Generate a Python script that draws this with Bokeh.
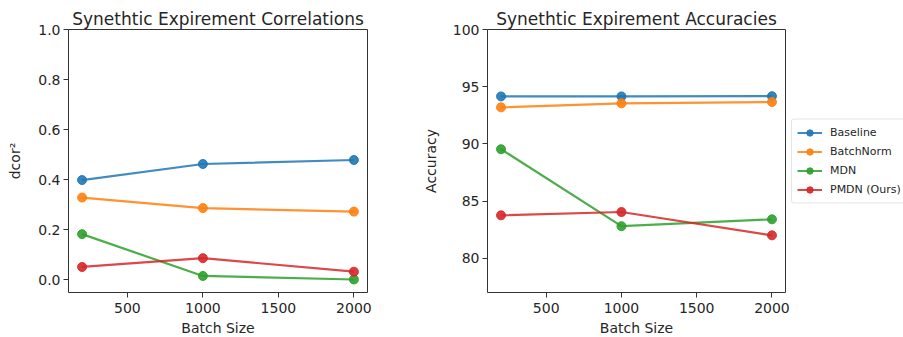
from bokeh.plotting import figure
from bokeh.layouts import row
from bokeh.models import Legend, LegendItem, FixedTicker, NumeralTickFormatter, Range1d
from bokeh.embed import file_html
from bokeh.resources import INLINE

batch_sizes = [200, 1000, 2000]
series_names = ["Baseline", "BatchNorm", "MDN", "PMDN (Ours)"]
colors = ["#1f77b4", "#ff7f0e", "#2ca02c", "#d62728"]

corr_baseline = [0.399, 0.463, 0.479]
corr_batchnorm = [0.329, 0.287, 0.273]
corr_mdn = [0.183, 0.016, 0.002]
corr_pmdn = [0.052, 0.087, 0.033]

acc_baseline = [94.15, 94.15, 94.17]
acc_batchnorm = [93.19, 93.54, 93.66]
acc_mdn = [89.53, 82.8, 83.4]
acc_pmdn = [83.75, 84.04, 82.0]

x_ticks = [500, 1000, 1500, 2000]
corr_ticks = [0.0, 0.2, 0.4, 0.6, 0.8, 1.0]
acc_ticks = [80, 85, 90, 95, 100]

FONT = "DejaVu Sans"
TXT = "#262626"


def style(p, xlabel, ylabel, title, ylabel_standoff):
    p.title.text = title
    p.title.text_font = FONT
    p.title.text_font_size = "17px"
    p.title.text_font_style = "normal"
    p.title.text_color = TXT
    p.title.align = "center"
    p.title.standoff = 2
    p.xgrid.visible = False
    p.ygrid.visible = False
    p.outline_line_color = "#333333"
    p.outline_line_width = 1
    p.background_fill_color = "white"
    p.border_fill_color = "white"
    for ax in (p.xaxis[0], p.yaxis[0]):
        ax.axis_line_color = None
        ax.major_tick_out = 5
        ax.major_tick_in = 0
        ax.major_tick_line_color = "#333333"
        ax.minor_tick_line_color = None
        ax.major_label_text_font = FONT
        ax.major_label_text_font_size = "14px"
        ax.major_label_text_color = TXT
        ax.axis_label_text_font = FONT
        ax.axis_label_text_font_size = "14px"
        ax.axis_label_text_font_style = "normal"
        ax.axis_label_text_color = TXT
        ax.major_label_standoff = 3
    p.xaxis[0].major_label_standoff = 5
    p.xaxis[0].axis_label_standoff = 4
    p.yaxis[0].axis_label_standoff = ylabel_standoff
    p.xaxis.axis_label = xlabel
    p.yaxis.axis_label = ylabel
    p.xaxis.ticker = FixedTicker(ticks=x_ticks)


p1 = figure(frame_width=299, frame_height=263, output_backend="svg", toolbar_location=None,
            x_range=Range1d(110, 2090), y_range=Range1d(-0.05, 1.0),
            min_border_left=68, min_border_right=41, min_border_top=29, min_border_bottom=0)
style(p1, "Batch Size", "dcor\u00b2", "Synethtic Expirement Correlations", 12)
p1.yaxis.ticker = FixedTicker(ticks=corr_ticks)
p1.yaxis.formatter = NumeralTickFormatter(format="0.0")

for vals, c in zip([corr_baseline, corr_batchnorm, corr_mdn, corr_pmdn], colors):
    p1.line(batch_sizes, vals, line_color=c, line_width=2.2, line_alpha=0.85)
    p1.scatter(batch_sizes, vals, size=9, fill_color=c, line_color=c, fill_alpha=0.9, line_alpha=0.9)

p2 = figure(frame_width=298, frame_height=263, output_backend="svg", toolbar_location=None,
            x_range=Range1d(110, 2090), y_range=Range1d(77, 100),
            min_border_left=79, min_border_right=0, min_border_top=29, min_border_bottom=0)
style(p2, "Batch Size", "Accuracy", "Synethtic Expirement Accuracies", 11)
p2.yaxis.ticker = FixedTicker(ticks=acc_ticks)

items = []
for vals, c, name in zip([acc_baseline, acc_batchnorm, acc_mdn, acc_pmdn], colors, series_names):
    l = p2.line(batch_sizes, vals, line_color=c, line_width=2.2, line_alpha=0.85)
    s = p2.scatter(batch_sizes, vals, size=9, fill_color=c, line_color=c, fill_alpha=0.9, line_alpha=0.9)
    items.append(LegendItem(label=name, renderers=[l, s]))

legend = Legend(items=items, location="center_left")
legend.label_text_font = FONT
legend.label_text_font_size = "11px"
legend.label_text_color = TXT
legend.glyph_width = 25
legend.glyph_height = 16
legend.label_height = 16
legend.spacing = 3
legend.padding = 5
legend.margin = 6
legend.border_line_color = "#cccccc"
legend.border_line_width = 1
legend.border_radius = 3
legend.background_fill_alpha = 0.8
legend.label_standoff = 8
p2.add_layout(legend, "right")

layout = row(p1, p2, spacing=0)

open("out.html", "w").write(file_html(layout, INLINE))
